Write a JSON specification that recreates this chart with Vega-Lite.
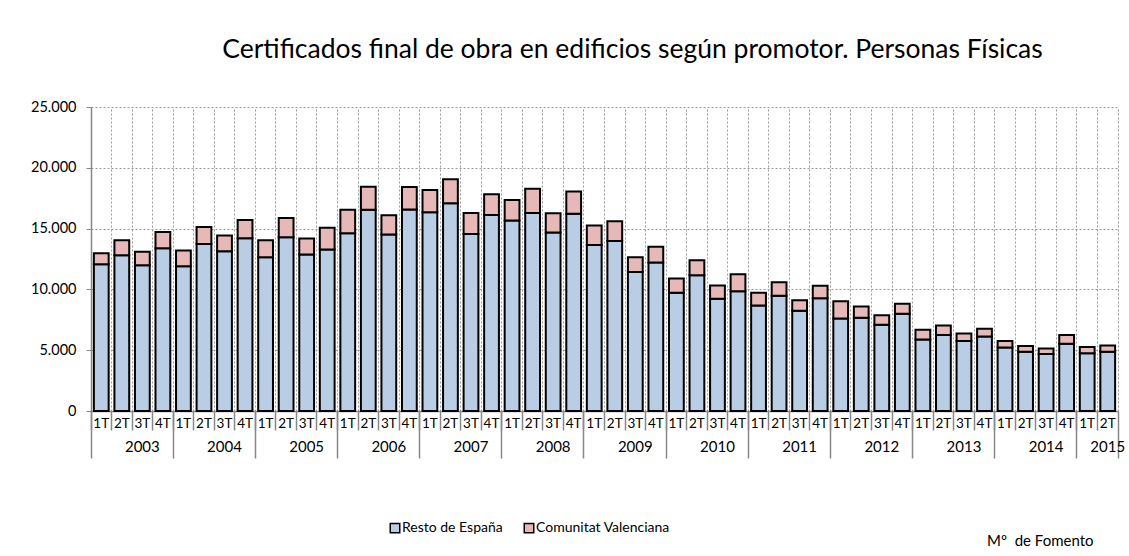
{
  "$schema": "https://vega.github.io/schema/vega-lite/v6.json",
  "width": 1027,
  "height": 304,
  "autosize": {"type": "none"},
  "padding": {"left": 91, "top": 107, "right": 11, "bottom": 145},
  "background": "white",
  "config": {"font": "Lato", "view": {"stroke": null}},
  "title": {"text": "Certificados final de obra en edificios según promotor. Personas Físicas", "fontSize": 26.5, "fontWeight": "normal", "color": "#000", "offset": 36, "dx": 28, "anchor": "middle"},
  "datasets": {
    "d": [
      {"p":"2003-1T","s":"Resto de España","v":12070},{"p":"2003-1T","s":"Comunitat Valenciana","v":900},
      {"p":"2003-2T","s":"Resto de España","v":12810},{"p":"2003-2T","s":"Comunitat Valenciana","v":1230},
      {"p":"2003-3T","s":"Resto de España","v":11990},{"p":"2003-3T","s":"Comunitat Valenciana","v":1100},
      {"p":"2003-4T","s":"Resto de España","v":13380},{"p":"2003-4T","s":"Comunitat Valenciana","v":1350},
      {"p":"2004-1T","s":"Resto de España","v":11900},{"p":"2004-1T","s":"Comunitat Valenciana","v":1290},
      {"p":"2004-2T","s":"Resto de España","v":13740},{"p":"2004-2T","s":"Comunitat Valenciana","v":1400},
      {"p":"2004-3T","s":"Resto de España","v":13140},{"p":"2004-3T","s":"Comunitat Valenciana","v":1290},
      {"p":"2004-4T","s":"Resto de España","v":14200},{"p":"2004-4T","s":"Comunitat Valenciana","v":1510},
      {"p":"2005-1T","s":"Resto de España","v":12640},{"p":"2005-1T","s":"Comunitat Valenciana","v":1400},
      {"p":"2005-2T","s":"Resto de España","v":14290},{"p":"2005-2T","s":"Comunitat Valenciana","v":1590},
      {"p":"2005-3T","s":"Resto de España","v":12870},{"p":"2005-3T","s":"Comunitat Valenciana","v":1310},
      {"p":"2005-4T","s":"Resto de España","v":13280},{"p":"2005-4T","s":"Comunitat Valenciana","v":1780},
      {"p":"2006-1T","s":"Resto de España","v":14610},{"p":"2006-1T","s":"Comunitat Valenciana","v":1950},
      {"p":"2006-2T","s":"Resto de España","v":16560},{"p":"2006-2T","s":"Comunitat Valenciana","v":1890},
      {"p":"2006-3T","s":"Resto de España","v":14510},{"p":"2006-3T","s":"Comunitat Valenciana","v":1580},
      {"p":"2006-4T","s":"Resto de España","v":16580},{"p":"2006-4T","s":"Comunitat Valenciana","v":1840},
      {"p":"2007-1T","s":"Resto de España","v":16340},{"p":"2007-1T","s":"Comunitat Valenciana","v":1840},
      {"p":"2007-2T","s":"Resto de España","v":17080},{"p":"2007-2T","s":"Comunitat Valenciana","v":1970},
      {"p":"2007-3T","s":"Resto de España","v":14560},{"p":"2007-3T","s":"Comunitat Valenciana","v":1730},
      {"p":"2007-4T","s":"Resto de España","v":16120},{"p":"2007-4T","s":"Comunitat Valenciana","v":1700},
      {"p":"2008-1T","s":"Resto de España","v":15660},{"p":"2008-1T","s":"Comunitat Valenciana","v":1700},
      {"p":"2008-2T","s":"Resto de España","v":16290},{"p":"2008-2T","s":"Comunitat Valenciana","v":1990},
      {"p":"2008-3T","s":"Resto de España","v":14670},{"p":"2008-3T","s":"Comunitat Valenciana","v":1590},
      {"p":"2008-4T","s":"Resto de España","v":16230},{"p":"2008-4T","s":"Comunitat Valenciana","v":1830},
      {"p":"2009-1T","s":"Resto de España","v":13660},{"p":"2009-1T","s":"Comunitat Valenciana","v":1590},
      {"p":"2009-2T","s":"Resto de España","v":13990},{"p":"2009-2T","s":"Comunitat Valenciana","v":1610},
      {"p":"2009-3T","s":"Resto de España","v":11440},{"p":"2009-3T","s":"Comunitat Valenciana","v":1200},
      {"p":"2009-4T","s":"Resto de España","v":12210},{"p":"2009-4T","s":"Comunitat Valenciana","v":1290},
      {"p":"2010-1T","s":"Resto de España","v":9720},{"p":"2010-1T","s":"Comunitat Valenciana","v":1170},
      {"p":"2010-2T","s":"Resto de España","v":11170},{"p":"2010-2T","s":"Comunitat Valenciana","v":1230},
      {"p":"2010-3T","s":"Resto de España","v":9230},{"p":"2010-3T","s":"Comunitat Valenciana","v":1090},
      {"p":"2010-4T","s":"Resto de España","v":9850},{"p":"2010-4T","s":"Comunitat Valenciana","v":1400},
      {"p":"2011-1T","s":"Resto de España","v":8680},{"p":"2011-1T","s":"Comunitat Valenciana","v":1040},
      {"p":"2011-2T","s":"Resto de España","v":9470},{"p":"2011-2T","s":"Comunitat Valenciana","v":1120},
      {"p":"2011-3T","s":"Resto de España","v":8240},{"p":"2011-3T","s":"Comunitat Valenciana","v":870},
      {"p":"2011-4T","s":"Resto de España","v":9280},{"p":"2011-4T","s":"Comunitat Valenciana","v":1020},
      {"p":"2012-1T","s":"Resto de España","v":7610},{"p":"2012-1T","s":"Comunitat Valenciana","v":1420},
      {"p":"2012-2T","s":"Resto de España","v":7670},{"p":"2012-2T","s":"Comunitat Valenciana","v":930},
      {"p":"2012-3T","s":"Resto de España","v":7090},{"p":"2012-3T","s":"Comunitat Valenciana","v":790},
      {"p":"2012-4T","s":"Resto de España","v":8000},{"p":"2012-4T","s":"Comunitat Valenciana","v":820},
      {"p":"2013-1T","s":"Resto de España","v":5890},{"p":"2013-1T","s":"Comunitat Valenciana","v":790},
      {"p":"2013-2T","s":"Resto de España","v":6240},{"p":"2013-2T","s":"Comunitat Valenciana","v":800},
      {"p":"2013-3T","s":"Resto de España","v":5750},{"p":"2013-3T","s":"Comunitat Valenciana","v":630},
      {"p":"2013-4T","s":"Resto de España","v":6130},{"p":"2013-4T","s":"Comunitat Valenciana","v":640},
      {"p":"2014-1T","s":"Resto de España","v":5230},{"p":"2014-1T","s":"Comunitat Valenciana","v":520},
      {"p":"2014-2T","s":"Resto de España","v":4880},{"p":"2014-2T","s":"Comunitat Valenciana","v":460},
      {"p":"2014-3T","s":"Resto de España","v":4680},{"p":"2014-3T","s":"Comunitat Valenciana","v":470},
      {"p":"2014-4T","s":"Resto de España","v":5530},{"p":"2014-4T","s":"Comunitat Valenciana","v":710},
      {"p":"2015-1T","s":"Resto de España","v":4740},{"p":"2015-1T","s":"Comunitat Valenciana","v":520},
      {"p":"2015-2T","s":"Resto de España","v":4880},{"p":"2015-2T","s":"Comunitat Valenciana","v":510}
    ]
  },
  "data": {"name": "d"},
  "layer": [
    {
      "mark": {"type": "bar", "width": {"band": 0.72}, "stroke": "#000", "strokeWidth": 2},
      "encoding": {
        "x": {"field": "p", "type": "nominal", "sort": null, "scale": {"paddingInner": 0, "paddingOuter": 0},
              "axis": {"orient": "bottom", "ticks": false, "grid": false, "domain": true, "domainColor": "#888", "domainWidth": 1.5,
                       "labelExpr": "split(datum.value,'-')[1]", "labelAngle": 0, "labelPadding": 5, "labelFontSize": 13.5, "labelColor": "#000", "title": null}},
        "y": {"field": "v", "type": "quantitative", "stack": "zero", "scale": {"domain": [0, 25000], "nice": false},
              "axis": {"values": [0, 5000, 10000, 15000, 20000, 25000], "labelExpr": "replace(format(datum.value, ','), ',', '.')",
                       "domainColor": "#888", "domainWidth": 1.5, "tickColor": "#888", "tickSize": 5, "labelFontSize": 14.5, "labelPadding": 10,
                       "labelColor": "#000", "grid": true, "gridColor": "#999", "gridDash": [2, 2], "title": null}},
        "color": {"field": "s", "type": "nominal",
                  "scale": {"domain": ["Resto de España", "Comunitat Valenciana"], "range": ["#B9CDE5", "#E6B9B8"]},
                  "legend": {"orient": "none", "legendX": 297, "legendY": 414, "direction": "horizontal", "title": null,
                             "symbolType": "square", "symbolSize": 90, "symbolStrokeColor": "#000", "symbolStrokeWidth": 1.5,
                             "labelFontSize": 14, "labelColor": "#000", "columnPadding": 18, "labelOffset": 0}},
        "order": {"field": "s", "sort": "descending"}
      }
    },
    {
      "mark": {"type": "point", "opacity": 0},
      "encoding": {
        "x": {"field": "p", "type": "nominal", "sort": null,
              "axis": {"orient": "bottom", "bandPosition": 0, "ticks": true, "tickSize": 19, "tickColor": "#888", "tickWidth": 1.5,
                       "labels": false, "domain": false, "grid": true, "gridColor": "#999", "gridDash": [2, 2], "title": null}}
      }
    },
    {
      "mark": {"type": "point", "opacity": 0},
      "encoding": {
        "x": {"field": "p", "type": "nominal", "sort": null,
              "axis": {"orient": "bottom", "bandPosition": 0, "values": ["2003-1T","2004-1T","2005-1T","2006-1T","2007-1T","2008-1T","2009-1T","2010-1T","2011-1T","2012-1T","2013-1T","2014-1T","2015-1T"],
                       "ticks": true, "tickSize": 47, "tickColor": "#888", "tickWidth": 1.5, "labels": false, "domain": false, "grid": false, "title": null}}
      }
    },
    {
      "mark": {"type": "point", "opacity": 0},
      "encoding": {
        "x": {"field": "p", "type": "nominal", "sort": null,
              "axis": {"orient": "bottom", "bandPosition": 1, "values": ["2015-2T"],
                       "ticks": true, "tickSize": 47, "tickColor": "#888", "tickWidth": 1.5, "labels": false, "domain": false,
                       "grid": true, "gridColor": "#999", "gridDash": [2, 2], "title": null}}
      }
    },
    {
      "mark": {"type": "point", "opacity": 0},
      "encoding": {
        "x": {"field": "p", "type": "nominal", "sort": null,
              "axis": {"orient": "bottom", "bandPosition": 0, "values": ["2003-3T","2004-3T","2005-3T","2006-3T","2007-3T","2008-3T","2009-3T","2010-3T","2011-3T","2012-3T","2013-3T","2014-3T","2015-2T"],
                       "ticks": false, "labels": true, "labelExpr": "split(datum.value,'-')[0]", "labelAngle": 0, "labelPadding": 28,
                       "labelFontSize": 15, "labelColor": "#000", "domain": false, "grid": false,
                       "title": "Mº\u00a0\u00a0de Fomento", "titleFontSize": 15, "titleFontWeight": "normal", "titleColor": "#000",
                       "titleAnchor": "end", "titleAlign": "right", "titleX": 1002, "titleY": 122, "titleBaseline": "top"}}
      }
    }
  ],
  "resolve": {"axis": {"x": "independent"}}
}
